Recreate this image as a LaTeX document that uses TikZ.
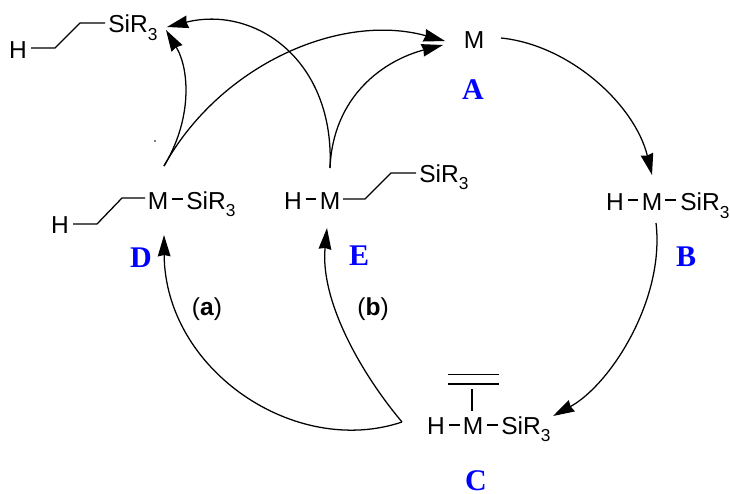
\documentclass[tikz,border=0pt]{standalone}
\usepackage{fontspec}
\setmainfont{Liberation Sans}
\newfontfamily\labfont{Liberation Serif}
\usetikzlibrary{arrows.meta}
\newcommand{\siR}{SiR\raisebox{-0.3em}{\fontsize{13}{14}\selectfont 3}}
\definecolor{labelblue}{RGB}{0,0,255}
\tikzset{
  atom/.style={inner sep=0pt,anchor=base,font=\fontsize{18.4}{21}\selectfont,text=black},
  silyl/.style={atom,anchor=base west},
  letter/.style={inner sep=0pt,font=\fontsize{22.5}{24}\selectfont\labfont\bfseries,text=labelblue},
  path label/.style={inner sep=0pt,font=\fontsize{18.4}{21}\selectfont},
  bond/.style={line width=0.95pt,line join=miter},
  curve/.style={line width=0.95pt},
  headed/.style={curve,-{Stealth[length=16pt,width=9.5pt,inset=1pt]}}
}
\begin{document}
\begin{tikzpicture}[x=0.75pt,y=-0.75pt]
\useasboundingbox (0,0) rectangle (730,493);
% product
\node[atom] (pH) at (18,58) {H};
\node[silyl] (pS) at (108,32.7) {\siR};
\coordinate (p1) at (55,48); \coordinate (p2) at (80,23);
\draw[bond] (31,48) -- (p1) -- (p2) -- (105,23);
% D
\node[atom] (dH) at (60,233.5) {H};
\node[atom] (dM) at (158,209) {M};
\node[silyl] (dS) at (186,209) {\siR};
\coordinate (d1) at (97,224); \coordinate (d2) at (122,198);
\draw[bond] (73,224) -- (d1) -- (d2) -- (145,198);
\draw[bond] (172,199) -- (183,199);
% E
\node[atom] (eH) at (293,209) {H};
\node[atom] (eM) at (330,209) {M};
\node[silyl] (eS) at (419,182.3) {\siR};
\coordinate (e1) at (365,199); \coordinate (e2) at (391,173);
\draw[bond] (306,199) -- (316,199);
\draw[bond] (343,199) -- (e1) -- (e2) -- (416,173);
% A
\node[atom] (aM) at (474,48.7) {M};
% B
\node[atom] (bH) at (615,210.7) {H};
\node[atom] (bM) at (652,210.7) {M};
\node[silyl] (bS) at (680,210.7) {\siR};
\draw[bond] (628,200) -- (638,200);
\draw[bond] (665,200) -- (676,200);
% C
\node[atom] (cH) at (436,434.3) {H};
\node[atom] (cM) at (473,434.3) {M};
\node[silyl] (cS) at (501,434.3) {\siR};
\draw[bond] (449,425) -- (460,425);
\draw[bond] (487,425) -- (498,425);
\draw[bond] (472,389) -- (472,411);
\draw[bond] (448,374.5) -- (499,374.5);
\draw[bond] (448,384) -- (499,384);
% letters
\node[letter] (lA) at (473,90) {A};
\node[letter] (lB) at (686,256.5) {B};
\node[letter] (lC) at (476,480.5) {C};
\node[letter] (lD) at (141,258) {D};
\node[letter] (lE) at (359,256) {E};
\node[path label] (la) at (207,309) {(\textbf{a})};
\node[path label] (lb) at (373,309) {(\textbf{b})};
% stray dot
\fill (155,141) circle (0.9);
% free ends of connectors
\coordinate (aIn1) at (445,41);
\coordinate (aIn2) at (443,45);
\coordinate (aOut) at (501,38);
\coordinate (bIn) at (652,175);
\coordinate (bOut) at (656,223);
\coordinate (cIn) at (553,416);
\coordinate (cOut) at (402,422);
\coordinate (dIn) at (164,235);
\coordinate (eIn) at (327,228);
\coordinate (dOut) at (164,166);
\coordinate (eOut) at (330,168);
\coordinate (pIn1) at (166,30);
\coordinate (pIn2) at (167,27);
% connectors
\draw[headed] (aOut) .. controls (570,45) and (635,105) .. (bIn);
\draw[headed] (bOut) .. controls (665,300) and (610,385) .. (cIn);
\draw[headed] (cOut) .. controls (295,458) and (165,370) .. (dIn);
\draw[headed] (cOut) .. controls (360,372) and (320,300) .. (eIn);
\draw[headed] (dOut) .. controls (192,120) and (190,70) .. (pIn1);
\draw[headed] (dOut) .. controls (220,65) and (340,12) .. (aIn1);
\draw[headed] (eOut) .. controls (333,95) and (385,60) .. (aIn2);
\draw[headed] (eOut) .. controls (335,60) and (255,5) .. (pIn2);
\end{tikzpicture}
\end{document}
